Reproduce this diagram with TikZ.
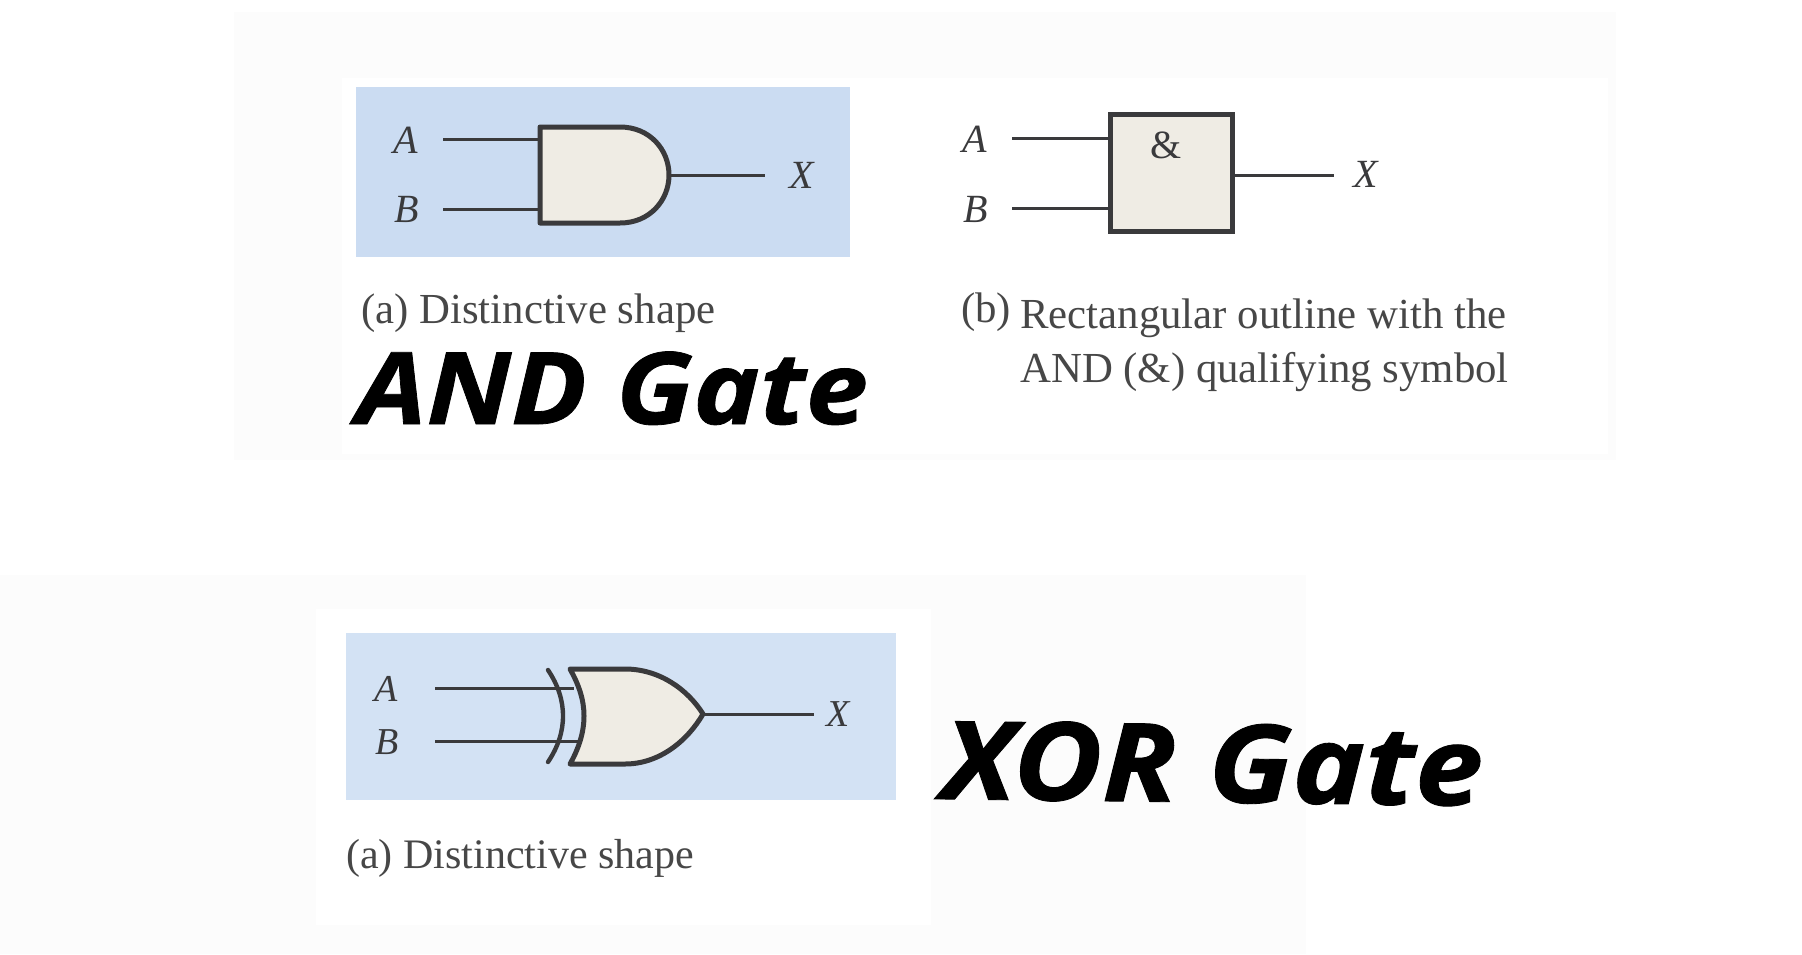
\documentclass[tikz,border=0pt]{standalone}
\usepackage{fontspec}
\setmainfont{Liberation Serif}
\newfontfamily\titlefont{Open Sans}[BoldItalicFeatures={FakeStretch=1.12,FakeBold=0.8}]
\definecolor{panelA}{HTML}{CBDCF2}
\definecolor{panelB}{HTML}{D3E2F4}
\definecolor{gatefill}{HTML}{EFECE4}
\definecolor{ink}{HTML}{3A3A3C}
\definecolor{captionink}{HTML}{474747}
\definecolor{faint}{HTML}{FCFCFC}
\tikzset{
  wire/.style={draw=ink,line width=3pt},
  gateline/.style={draw=ink,line width=5pt,fill=gatefill,line join=round},
  backarc/.style={draw=ink,line width=4.4pt,line cap=round},
  pin/.style={inner sep=0pt,text=ink,font=\fontsize{40}{40}\selectfont\itshape},
  pinsmall/.style={pin,font=\fontsize{38}{38}\selectfont\itshape},
  caption/.style={inner sep=0pt,anchor=base west,text=captionink,font=\fontsize{42.8}{42.8}\selectfont},
  bigtitle/.style={inner sep=0pt,anchor=base west,text=black,font=\titlefont\bfseries\itshape\fontsize{100}{100}\selectfont},
  panel/.style={inner sep=0pt,anchor=north west}
}
\begin{document}
\begin{tikzpicture}[x=1pt,y=-1pt]
\useasboundingbox (0,0) rectangle (1802,954);
\fill[white] (0,0) rectangle (1802,954);
% faint page backgrounds
\fill[faint] (234,12) rectangle (1616,460);
\fill[white] (342,78) rectangle (1608,454);
\fill[faint] (0,575) rectangle (1306,954);
\fill[white] (316,609) rectangle (931,925);

% ---- AND distinctive
\node[panel,fill=panelA,minimum width=494pt,minimum height=170pt] (pa) at (356,87) {};
\coordinate (a1in) at (443,139);
\coordinate (a1g) at (540,139);
\coordinate (b1in) at (443,209);
\coordinate (b1g) at (540,209);
\coordinate (x1g) at (669,175);
\coordinate (x1out) at (765,175);
\draw[wire] (a1in) -- (a1g);
\draw[wire] (b1in) -- (b1g);
\draw[wire] (x1g) -- (x1out);
\draw[gateline] (540,127) -- (620,127) .. controls (650,127) and (669,150) .. (669,175)
  .. controls (669,200) and (650,223) .. (620,223) -- (540,223) -- cycle;
\node[pin] (la1) at (406,140) {A};
\node[pin] (lb1) at (407,209) {B};
\node[pin] (lx1) at (802,175) {X};
\node[caption] (ca) at (361,323) {(a) Distinctive shape};
\node[bigtitle] (t1) at (356,424) {AND Gate};

% ---- AND rectangular
\node[draw=ink,line width=5pt,fill=gatefill,minimum width=122pt,minimum height=117pt,inner sep=0pt,outer sep=0pt] (box) at (1171.5,172.5) {};
\node[inner sep=0pt,text=ink,font=\fontsize{40}{40}\selectfont] (amp) at (1166,145) {\&};
\coordinate (a2in) at (1012,138);
\coordinate (b2in) at (1012,208);
\coordinate (x2out) at (1334,175);
\draw[wire] (a2in) -- (a2in -| box.west);
\draw[wire] (b2in) -- (b2in -| box.west);
\draw[wire] (x2out -| box.east) -- (x2out);
\node[pin] (la2) at (975,139) {A};
\node[pin] (lb2) at (976,209) {B};
\node[pin] (lx2) at (1366,174) {X};
\node[caption] (cb0) at (961,322) {(b)};
\node[caption] (cb1) at (1020,328) {Rectangular outline with the};
\node[caption] (cb2) at (1020,382) {AND (\&) qualifying symbol};

% ---- XOR
\node[panel,fill=panelB,minimum width=550pt,minimum height=167pt] (pb) at (346,633) {};
\coordinate (a3in) at (435,688);
\coordinate (a3g) at (574,688);
\coordinate (b3in) at (435,741);
\coordinate (b3g) at (582,741);
\coordinate (x3g) at (703,714);
\coordinate (x3out) at (814,714);
\draw[wire] (a3in) -- (a3g);
\draw[wire] (b3in) -- (b3g);
\draw[wire] (x3g) -- (x3out);
\draw[backarc] (548,670) .. controls (558,685) and (563,700) .. (563,716)
  .. controls (563,732) and (558,747) .. (548,762);
\draw[gateline] (570,669) -- (625,669) .. controls (660,669) and (688,690) .. (703,714)
  .. controls (688,740) and (660,764) .. (625,764) -- (570,764)
  .. controls (579,748) and (584,732) .. (584,716)
  .. controls (584,700) and (579,685) .. (570,669) -- cycle;
\node[pinsmall] (la3) at (386,689) {A};
\node[pinsmall] (lb3) at (387,742) {B};
\node[pinsmall] (lx3) at (838,714) {X};
\node[caption,font=\fontsize{42}{42}\selectfont] (cc) at (346,868) {(a) Distinctive shape};
\node[bigtitle,font=\titlefont\bfseries\itshape\fontsize{109}{109}\selectfont,rotate=-0.7] (t2) at (941,799) {XOR Gate};
\end{tikzpicture}
\end{document}
